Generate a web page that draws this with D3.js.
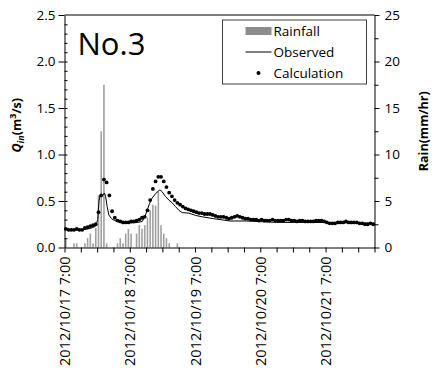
<!DOCTYPE html>
<html>
<head>
<meta charset="utf-8">
<script src="https://cdn.jsdelivr.net/npm/d3@7"></script>
<style>
body { margin: 0; background: #fff; }
svg { font-family: "Open Sans", sans-serif; }
</style>
</head>
<body>
<div id="chart"></div>
<script>
// hours after 2012/10/17 7:00
const tickLabels = ["2012/10/17 7:00", "2012/10/18 7:00", "2012/10/19 7:00", "2012/10/20 7:00", "2012/10/21 7:00"];

// hourly rainfall (mm/hr), index = hour
const rainHours = [0, 3, 4, 7, 8, 9, 10, 11, 12, 13, 14, 15, 19, 20, 21, 22, 23, 24, 26, 27, 28, 29, 30, 31, 32, 33, 34, 35, 36, 37, 38, 41];
const rainValues = [0.9, 0.45, 0.45, 0.45, 1.0, 1.5, 0.45, 2.1, 5.6, 12.5, 17.5, 0.45, 0.45, 1.0, 0.45, 1.5, 2.0, 1.5, 1.5, 2.4, 2.0, 2.4, 3.2, 4.0, 4.6, 4.5, 6.0, 2.4, 1.5, 1.0, 0.45, 0.45];

// observed inflow (m3/s)
const obsHours = [0, 3, 6, 8, 10, 11.5, 12.2, 12.7, 13, 14, 14.7, 15.1, 15.7, 16.3, 17.3, 18.4, 20, 22, 25, 27, 28.6, 29.8, 31.1, 32.2, 33.5, 35.1, 35.9, 37.1, 38.4, 39.6, 40.8, 42.1, 43.3, 45.7, 48.2, 50.6, 54.8, 60.9, 67, 78, 91.5, 103.8, 114];
const obsValues = [0.195, 0.19, 0.19, 0.195, 0.21, 0.23, 0.30, 0.50, 0.555, 0.56, 0.585, 0.55, 0.44, 0.35, 0.31, 0.29, 0.275, 0.265, 0.265, 0.27, 0.28, 0.35, 0.46, 0.53, 0.58, 0.62, 0.60, 0.55, 0.51, 0.48, 0.44, 0.40, 0.375, 0.37, 0.345, 0.33, 0.31, 0.285, 0.285, 0.27, 0.27, 0.265, 0.26];

// calculated inflow (m3/s), hourly from hour 0
const calcValues = [0.20, 0.19, 0.19, 0.19, 0.20, 0.19, 0.19, 0.21, 0.22, 0.23, 0.24, 0.25, 0.38, 0.56, 0.73, 0.70, 0.56, 0.39, 0.32, 0.29,
  0.28, 0.27, 0.27, 0.27, 0.28, 0.28, 0.29, 0.30, 0.32, 0.33, 0.40, 0.51, 0.63, 0.71, 0.76, 0.76, 0.71, 0.65, 0.59, 0.55,
  0.51, 0.48, 0.46, 0.44, 0.42, 0.41, 0.40, 0.39, 0.38, 0.37, 0.37, 0.36, 0.36, 0.36, 0.35, 0.34, 0.33, 0.33, 0.33, 0.32,
  0.31, 0.32, 0.33, 0.34, 0.33, 0.32, 0.31, 0.31, 0.30, 0.30, 0.30, 0.29, 0.30, 0.29, 0.29, 0.29, 0.30, 0.29, 0.29, 0.29,
  0.29, 0.30, 0.30, 0.29, 0.29, 0.28, 0.29, 0.29, 0.28, 0.28, 0.28, 0.28, 0.29, 0.29, 0.29, 0.28, 0.27, 0.26, 0.26, 0.26,
  0.27, 0.27, 0.27, 0.28, 0.27, 0.27, 0.27, 0.27, 0.26, 0.26, 0.25, 0.25, 0.26, 0.25];

const seriesNames = ["Rainfall", "Observed", "Calculation"];

// set the dimensions and margins of the graph
const margin = {top: 15, right: 57.5, bottom: 121.5, left: 64.5},
width = 432 - margin.left - margin.right,
height = 369 - margin.top - margin.bottom;

const svg = d3.select("#chart")
.append("svg")
.attr("width", 432)
.attr("height", 369)
.append("g")
.attr("transform", `translate(${margin.left},${margin.top})`);

const x = d3.scaleLinear().domain([0, 114]).range([0, width]);
const y = d3.scaleLinear().domain([0, 2.5]).range([height, 0]);
const yRain = d3.scaleLinear().domain([0, 25]).range([height, 0]);

// rain bars
svg.append("g")
.selectAll("rect")
.data(rainHours)
.join("rect")
.attr("x", (d) => x(d + 0.5) - 0.8)
.attr("width", 1.6)
.attr("y", (d, i) => yRain(rainValues[i]))
.attr("height", (d, i) => height - yRain(rainValues[i]))
.attr("fill", "#a0a0a0");

// observed line
svg.append("path")
.datum(obsHours)
.attr("fill", "none")
.attr("stroke", "#000")
.attr("stroke-width", 1)
.attr("d", d3.line()
.x(d => x(d))
.y((d, i) => y(obsValues[i]))
);

// calculation dots
svg.append("g")
.selectAll("circle")
.data(calcValues)
.join("circle")
.attr("cx", (d, i) => x(i + 0.5))
.attr("cy", d => y(d))
.attr("r", 1.9)
.attr("fill", "#000");

// X axis
const xMinor = d3.range(0, 115, 6);
svg.append("g")
.attr("transform", `translate(0, ${height})`)
.call(d3.axisBottom(x).tickValues(xMinor).tickFormat("").tickSize(5).tickSizeOuter(0))
.call(g => g.select(".domain").attr("stroke", "#000"));

svg.append("g")
.selectAll("text")
.data(tickLabels)
.join("text")
.attr("transform", (d, i) => `translate(${x(i * 24) + 5.5},${height + 9}) rotate(-90)`)
.attr("text-anchor", "end")
.attr("font-size", 14.5)
.text(d => d);

// left Y axis
svg.append("g")
.call(d3.axisLeft(y).tickValues(d3.range(0, 2.51, 0.5)).tickFormat(d3.format(".1f")).tickSize(6).tickSizeOuter(0))
.call(g => g.selectAll("text").attr("font-size", 13.5).attr("font-family", "Open Sans").attr("fill", "#000"));
svg.append("g")
.call(d3.axisRight(y).tickValues(d3.range(0.1, 2.5, 0.1)).tickFormat("").tickSize(3).tickSizeOuter(0))
.call(g => g.select(".domain").remove());

// right Y axis
svg.append("g")
.attr("transform", `translate(${width},0)`)
.call(d3.axisRight(yRain).tickValues(d3.range(0, 26, 5)).tickSize(5).tickSizeOuter(0))
.call(g => g.selectAll("text").attr("font-size", 13.5).attr("font-family", "Open Sans").attr("fill", "#000").attr("x", 10));
svg.append("g")
.attr("transform", `translate(${width},0)`)
.call(d3.axisRight(yRain).tickValues(d3.range(2.5, 25, 5)).tickFormat("").tickSize(4).tickSizeOuter(0))
.call(g => g.select(".domain").remove());

// top border
svg.append("line")
.attr("x1", 0).attr("x2", width)
.attr("y1", 0).attr("y2", 0)
.attr("stroke", "#000");

// station name
svg.append("text")
.attr("x", 13)
.attr("y", 40)
.attr("font-size", 31)
.text("No.3");

// Y axis labels
const qLabel = svg.append("text")
.attr("transform", `translate(${-margin.left + 21},${height / 2 - 6}) rotate(-90)`)
.attr("text-anchor", "middle")
.attr("font-size", 12.5)
.attr("font-weight", "bold");
qLabel.append("tspan").attr("font-style", "italic").text("Q");
qLabel.append("tspan").attr("font-style", "italic").attr("font-size", 9).attr("dy", 3).text("in");
qLabel.append("tspan").attr("dy", -3).text("(m");
qLabel.append("tspan").attr("font-size", 9).attr("dy", -5).text("3");
qLabel.append("tspan").attr("dy", 5).text("/s)");

svg.append("text")
.attr("transform", `translate(${width + 53},${height / 2}) rotate(-90)`)
.attr("text-anchor", "middle")
.attr("font-size", 12.5)
.attr("font-weight", "bold")
.text("Rain(mm/hr)");

// legend
const legend = svg.append("g").attr("transform", `translate(${158},${5})`);
legend.append("rect")
.attr("width", 144).attr("height", 64)
.attr("fill", "#fff").attr("stroke", "#404040").attr("stroke-width", 1);

const items = legend.selectAll("g")
.data(seriesNames)
.join("g")
.attr("transform", (d, i) => `translate(0,${11 + i * 21})`);

items.filter(d => d === "Rainfall").append("rect")
.attr("x", 23).attr("y", -4).attr("width", 26).attr("height", 8)
.attr("fill", "#8c8c8c");
items.filter(d => d === "Observed").append("line")
.attr("x1", 23).attr("x2", 49).attr("y1", 0).attr("y2", 0)
.attr("stroke", "#000");
items.filter(d => d === "Calculation").append("circle")
.attr("cx", 36).attr("cy", 0).attr("r", 2).attr("fill", "#000");

items.append("text")
.attr("x", 51)
.attr("dy", "0.35em")
.attr("font-size", 13.5)
.text(d => d);
</script>
</body>
</html>
